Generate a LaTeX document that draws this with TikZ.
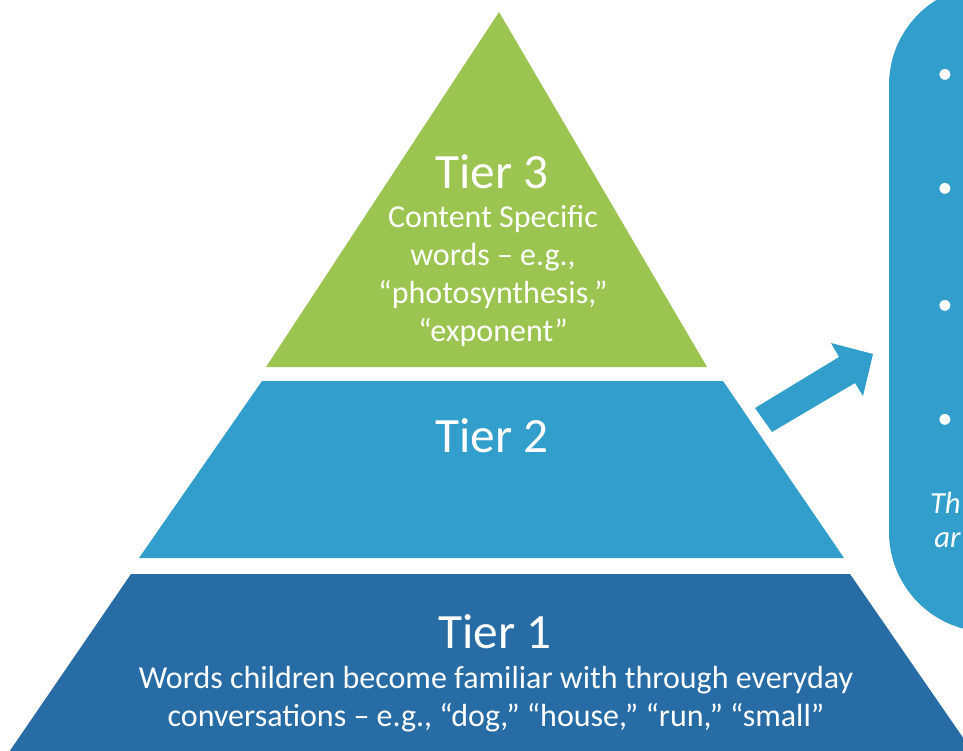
\documentclass[tikz,border=0pt]{standalone}
\usepackage{fontspec}
\setmainfont{Carlito}
\definecolor{tgreen}{HTML}{9BC550}
\definecolor{tlight}{HTML}{319ECC}
\definecolor{tdark}{HTML}{276CA5}
\begin{document}
\begin{tikzpicture}[x=0.75pt,y=-0.75pt,
  tierlabel/.style={text=white,font=\fontsize{37}{44}\selectfont,inner sep=0pt},
  tiertext/.style={text=white,font=\fontsize{24}{28.5}\selectfont,align=center,inner sep=0pt},
  bulletdot/.style={text=white,font=\fontsize{23}{28.5}\selectfont,inner sep=0pt},
  note/.style={text=white,font=\fontsize{23}{28.5}\selectfont\itshape,inner sep=0pt,anchor=east}]
\useasboundingbox (0,0) rectangle (963,750);
\begin{scope}
\clip (0,0) rectangle (963,750);
% right panel
\fill[tlight,rounded corners=75pt] (889,-15) rectangle (1200,632);
% tiers
\fill[tgreen] (499,12) -- (707,367) -- (266,367) -- cycle;
\fill[tlight] (262,381) -- (723,381) -- (844,558) -- (139,558) -- cycle;
\fill[tdark] (131,574) -- (850,574) -- (975,755) -- (7,755) -- cycle;
% arrow
\coordinate (a1) at (755,408);
\coordinate (a2) at (839,357);
\coordinate (a3) at (831,343);
\coordinate (a4) at (873,354);
\coordinate (a5) at (863,396);
\coordinate (a6) at (855,383);
\coordinate (a7) at (772,432);
\fill[tlight] (a1) -- (a2) -- (a3) -- (a4) -- (a5) -- (a6) -- (a7) -- cycle;
% panel contents
\node[bulletdot] (b1) at (945,76) {•};
\node[bulletdot] (b2) at (945,190) {•};
\node[bulletdot] (b3) at (945,307) {•};
\node[bulletdot] (b4) at (945,421) {•};
\end{scope}
\node[note] (n1) at (961,503) {Th};
\node[note] (n2) at (961,540) {ar};
% texts
\node[tierlabel] (t3) at (492,172) {Tier 3};
\node[tiertext] (t3b) at (493,276) {Content Specific\\words – e.g.,\\“photosynthesis,”\\ “exponent”};
\node[tierlabel] (t2) at (492,436) {Tier 2};
\node[tierlabel] (t1) at (495,632) {Tier 1};
\node[tiertext] (t1b) at (496,699) {Words children become familiar with through everyday\\conversations – e.g., “dog,” “house,” “run,” “small”};
\end{tikzpicture}
\end{document}
